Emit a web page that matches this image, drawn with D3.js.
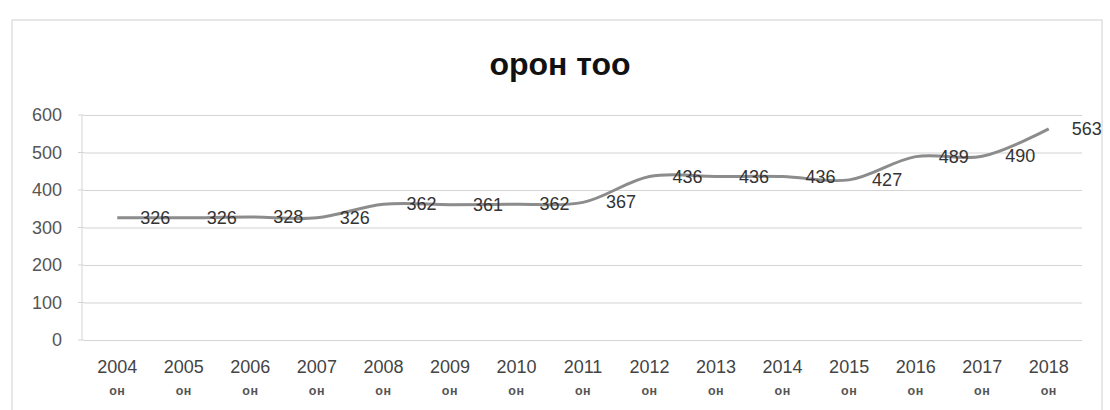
<!DOCTYPE html>
<html>
<head>
<meta charset="utf-8">
<script src="https://cdn.jsdelivr.net/npm/d3@7/dist/d3.min.js"></script>
<style>
  body { margin: 0; background: #fff; }
  svg { display: block; font-family: "Liberation Sans", Arial, sans-serif; }
  .grid line { stroke: #d4d4d4; stroke-width: 1.2; }
  .tick text { fill: #555; }
</style>
</head>
<body>
<svg id="chart"></svg>
<script>
// data
var years = ["2004", "2005", "2006", "2007", "2008", "2009", "2010", "2011",
             "2012", "2013", "2014", "2015", "2016", "2017", "2018"];
var yearSuffix = "он";
var staff = [326, 326, 328, 326, 362, 361, 362, 367, 436, 436, 436, 427, 489, 490, 563];
var yTicks = [0, 100, 200, 300, 400, 500, 600];
var title = "орон тоо";

var width = 1110, height = 410;
var margin = {top: 115, right: 28, bottom: 70, left: 84};

var svg = d3.select("#chart")
  .attr("width", width)
  .attr("height", height);

// chart frame
svg.append("rect")
  .attr("x", 12).attr("y", 20)
  .attr("width", 1090).attr("height", 400)
  .attr("fill", "none")
  .attr("stroke", "#cfcfcf");

svg.append("text")
  .attr("x", 560)
  .attr("y", 75)
  .attr("text-anchor", "middle")
  .style("font-size", "32px")
  .style("font-weight", "bold")
  .style("fill", "#111")
  .text(title);

var x = d3.scaleBand()
  .domain(years)
  .range([margin.left, width - margin.right]);

var y = d3.scaleLinear()
  .domain([0, 600])
  .range([height - margin.bottom, margin.top]);

// gridlines + y labels
var yAxis = svg.append("g")
  .attr("class", "grid")
  .attr("transform", "translate(" + margin.left + ",0)")
  .call(d3.axisLeft(y)
    .tickValues(yTicks)
    .tickSize(-(width - margin.left - margin.right))
    .tickPadding(22));
yAxis.select(".domain").remove();
yAxis.selectAll(".tick text")
  .style("font-size", "18px");

// short outside ticks
svg.append("g")
  .selectAll("line")
  .data(yTicks)
  .join("line")
  .attr("x1", margin.left - 6)
  .attr("x2", margin.left)
  .attr("y1", function(d) { return y(d); })
  .attr("y2", function(d) { return y(d); })
  .attr("stroke", "#d4d4d4");

// vertical axis line
svg.append("line")
  .attr("x1", margin.left - 2).attr("x2", margin.left - 2)
  .attr("y1", y(600)).attr("y2", y(0))
  .attr("stroke", "#d4d4d4");

// x labels
var xl = svg.append("g")
  .selectAll("g")
  .data(years)
  .join("g")
  .attr("transform", function(d) {
    return "translate(" + (x(d) + x.bandwidth() / 2) + "," + (y(0) + 33) + ")";
  });
xl.append("text")
  .attr("text-anchor", "middle")
  .style("font-size", "18px")
  .style("fill", "#444")
  .text(function(d) { return d; });
xl.append("text")
  .attr("text-anchor", "middle")
  .attr("y", 22)
  .style("font-size", "12.5px")
  .style("font-weight", "bold")
  .style("letter-spacing", "0.5px")
  .style("fill", "#555")
  .text(yearSuffix);

var line = d3.line()
  .x(function(d, i) { return x(years[i]) + x.bandwidth() / 2; })
  .y(function(d) { return y(d); })
  .curve(d3.curveCatmullRom);

svg.append("path")
  .datum(staff)
  .attr("d", line)
  .attr("fill", "none")
  .attr("stroke", "#8c8c8c")
  .attr("stroke-width", 3);

svg.append("g")
  .selectAll("text")
  .data(staff)
  .join("text")
  .attr("x", function(d, i) { return x(years[i]) + x.bandwidth() / 2 + 38; })
  .attr("y", function(d) { return y(d) + 6; })
  .attr("text-anchor", "middle")
  .style("font-size", "18px")
  .style("fill", "#333")
  .text(function(d) { return d; });
</script>
</body>
</html>
